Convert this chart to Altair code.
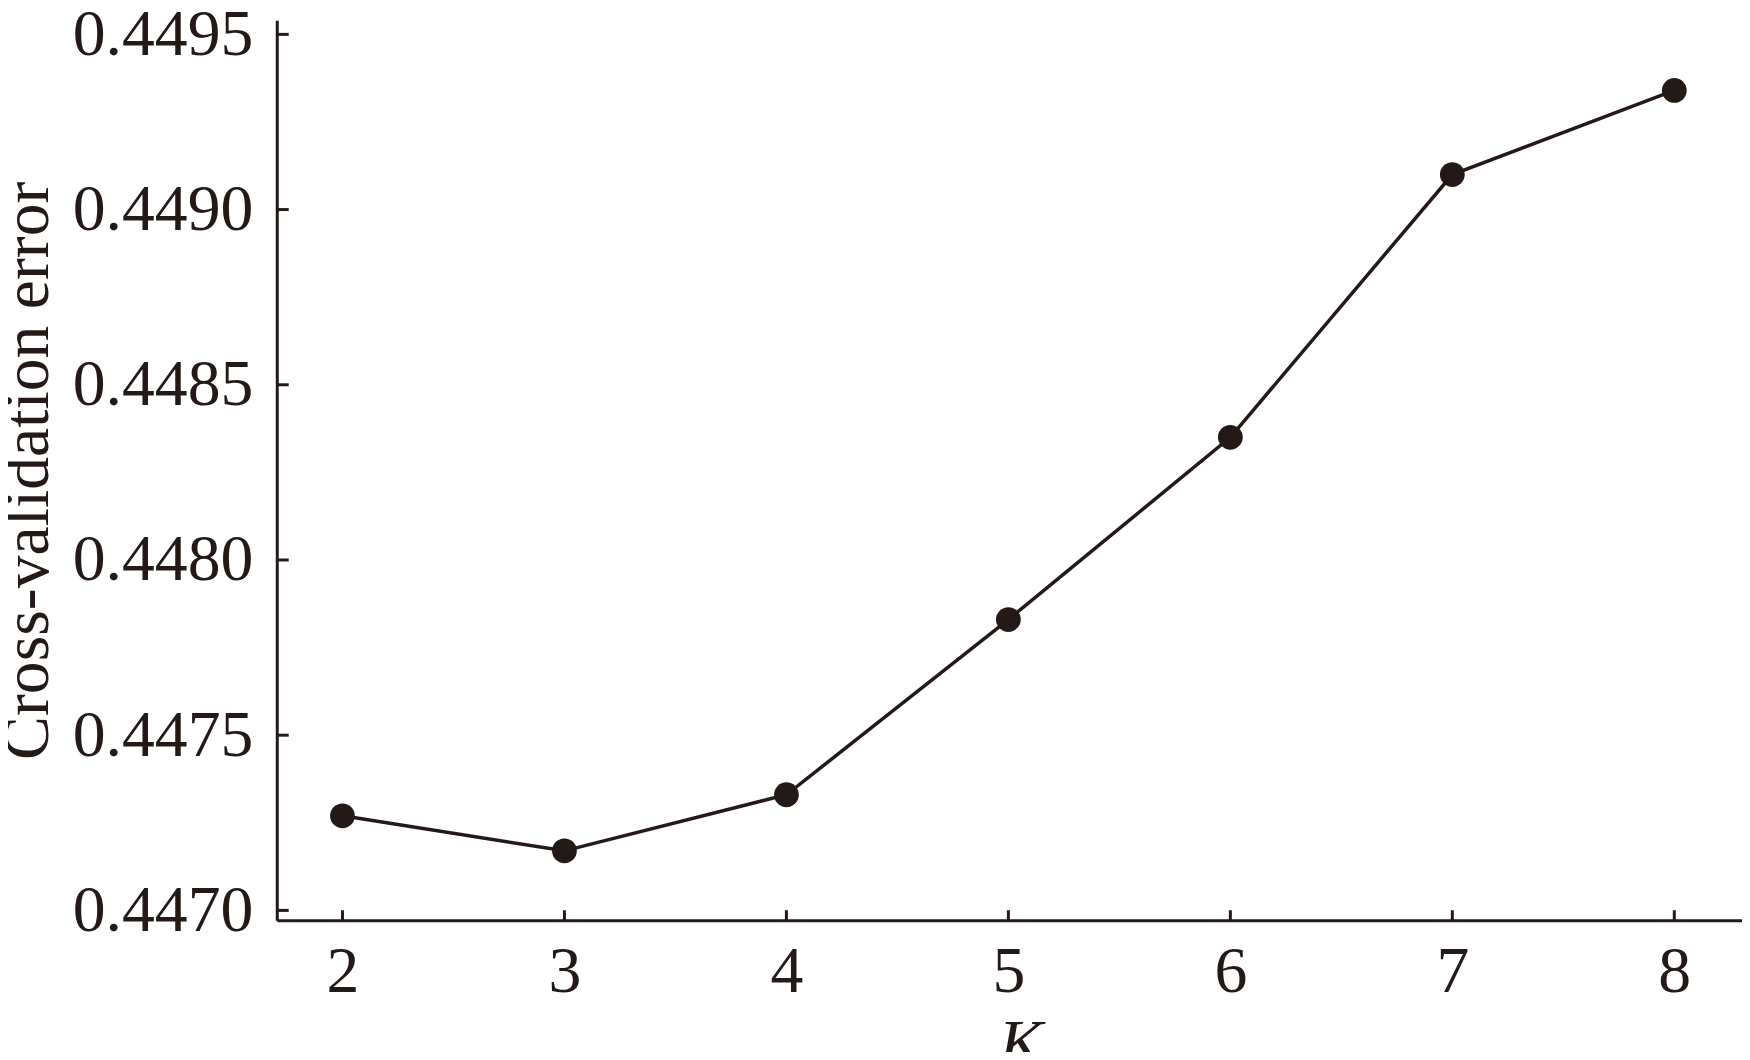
import altair as alt
import pandas as pd

# Data
K = [2, 3, 4, 5, 6, 7, 8]
cv_error = [0.44727, 0.44717, 0.44733, 0.44783, 0.44835, 0.44910, 0.44934]
y_ticks = [0.4470, 0.4475, 0.4480, 0.4485, 0.4490, 0.4495]
x_ticks = [2, 3, 4, 5, 6, 7, 8]

INK = "#231916"
FONT = "Times New Roman, Liberation Serif, serif"
W, H = 1472, 904

df = pd.DataFrame({"K": K, "err": cv_error})
ydf = pd.DataFrame({"v": y_ticks})
xdf = pd.DataFrame({"k": x_ticks})

xscale = alt.Scale(domain=[1.704, 8.305], nice=False, zero=False)
yscale = alt.Scale(domain=[0.446972, 0.44954], nice=False, zero=False)

xaxis = alt.Axis(values=x_ticks, format="d", ticks=False, tickSize=0,
                 labelPadding=20, title="K", titleFontStyle="italic",
                 titlePadding=8, titleX=W / 2 + 11)
yaxis = alt.Axis(values=y_ticks, format=".4f", ticks=False, tickSize=0,
                 labelPadding=24, labelLimit=0, title="Cross-validation error",
                 titlePadding=16)

base = alt.Chart(df)
line = base.mark_line(color=INK, strokeWidth=3.5).encode(
    x=alt.X("K:Q", scale=xscale, axis=xaxis),
    y=alt.Y("err:Q", scale=yscale, axis=yaxis),
)
pts = base.mark_circle(color=INK, opacity=1, size=620).encode(
    x=alt.X("K:Q", scale=xscale),
    y=alt.Y("err:Q", scale=yscale),
)

# inward-pointing ticks
ytk = alt.Chart(ydf).mark_rule(color=INK, strokeWidth=3).encode(
    y=alt.Y("v:Q", scale=yscale),
    x=alt.value(0), x2=alt.value(12),
)
xtk = alt.Chart(xdf).mark_rule(color=INK, strokeWidth=3).encode(
    x=alt.X("k:Q", scale=xscale),
    y=alt.value(H), y2=alt.value(H - 10),
)

chart = alt.layer(line, pts, ytk, xtk).properties(
    width=W, height=H,
    autosize="none",
    padding={"left": 270, "top": 10, "right": 0, "bottom": 130},
    background="white",
).configure_view(stroke=None).configure_axis(
    grid=False,
    domainColor=INK, domainWidth=3,
    labelFont=FONT, labelFontSize=66, labelColor=INK,
    titleFont=FONT, titleFontSize=66, titleColor=INK, titleFontWeight="normal",
)

chart.save("out.html", embed_options={"renderer": "svg", "actions": False})
